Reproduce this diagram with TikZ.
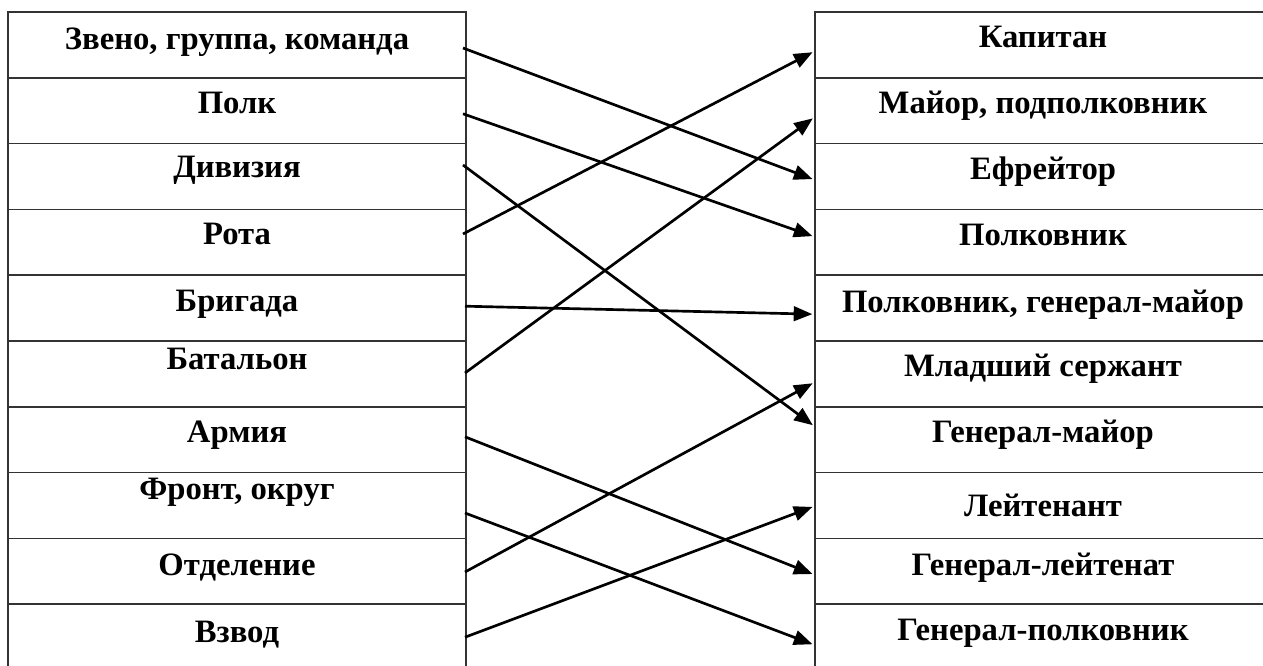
\documentclass[tikz,border=0pt]{standalone}
\usepackage{fontspec}
\setmainfont{Liberation Serif}
\usetikzlibrary{arrows.meta,calc}
\begin{document}
\begin{tikzpicture}[x=0.75pt,y=-0.75pt,
  lcell/.style={draw=black!80,line width=1.1pt,minimum width=343.5pt,minimum height=49.35pt,inner sep=0pt,outer sep=0pt,anchor=north west},
  rcell/.style={lcell,minimum width=342pt},
  lbl/.style={font=\bfseries\fontsize{24.5}{27}\selectfont,anchor=base,inner sep=0pt},
  arr/.style={line width=2pt,-{Triangle[length=14pt,width=11pt]},shorten >=2pt}]
\useasboundingbox (0,0) rectangle (1263,666);
% left column cells
\node[lcell] (L0) at (8,12) {};
\node[lcell] (L1) at (8,77.8) {};
\node[lcell] (L2) at (8,143.6) {};
\node[lcell] (L3) at (8,209.4) {};
\node[lcell] (L4) at (8,275.2) {};
\node[lcell] (L5) at (8,341) {};
\node[lcell] (L6) at (8,406.8) {};
\node[lcell] (L7) at (8,472.6) {};
\node[lcell] (L8) at (8,538.4) {};
\node[lcell] (L9) at (8,604.2) {};
% right column cells
\node[rcell] (R0) at (815,12) {};
\node[rcell] (R1) at (815,77.8) {};
\node[rcell] (R2) at (815,143.6) {};
\node[rcell] (R3) at (815,209.4) {};
\node[rcell] (R4) at (815,275.2) {};
\node[rcell] (R5) at (815,341) {};
\node[rcell] (R6) at (815,406.8) {};
\node[rcell] (R7) at (815,472.6) {};
\node[rcell] (R8) at (815,538.4) {};
\node[rcell] (R9) at (815,604.2) {};
% left labels
\node[lbl] (tL0) at ($(L0.north)+(0,38)$) {Звено, группа, команда};
\node[lbl] (tL1) at ($(L1.north)+(0,36)$) {Полк};
\node[lbl] (tL2) at ($(L2.north)+(0,34)$) {Дивизия};
\node[lbl] (tL3) at ($(L3.north)+(0,35)$) {Рота};
\node[lbl] (tL4) at ($(L4.north)+(0,36)$) {Бригада};
\node[lbl] (tL5) at ($(L5.north)+(0,28)$) {Батальон};
\node[lbl] (tL6) at ($(L6.north)+(0,36)$) {Армия};
\node[lbl] (tL7) at ($(L7.north)+(0,27)$) {Фронт, округ};
\node[lbl] (tL8) at ($(L8.north)+(0,37)$) {Отделение};
\node[lbl] (tL9) at ($(L9.north)+(0,38)$) {Взвод};
% right labels
\node[lbl] (tR0) at ($(R0.north)+(0,36)$) {Капитан};
\node[lbl] (tR1) at ($(R1.north)+(0,36)$) {Майор, подполковник};
\node[lbl] (tR2) at ($(R2.north)+(0,36)$) {Ефрейтор};
\node[lbl] (tR3) at ($(R3.north)+(0,36)$) {Полковник};
\node[lbl] (tR4) at ($(R4.north)+(0,37)$) {Полковник, генерал-майор};
\node[lbl] (tR5) at ($(R5.north)+(0,36)$) {Младший сержант};
\node[lbl] (tR6) at ($(R6.north)+(0,36)$) {Генерал-майор};
\node[lbl] (tR7) at ($(R7.north)+(0,44)$) {Лейтенант};
\node[lbl] (tR8) at ($(R8.north)+(0,37)$) {Генерал-лейтенат};
\node[lbl] (tR9) at ($(R9.north)+(0,36)$) {Генерал-полковник};
% connectors
\draw[arr] ($(L0.north east)+(-3,36)$) -- ($(R2.north west)+(0,36.4)$);
\draw[arr] ($(L1.north east)+(-3,36)$) -- ($(R3.north west)+(0,27.6)$);
\draw[arr] ($(L2.north east)+(-3,21.4)$) -- ($(R6.north west)+(0,20)$);
\draw[arr] ($(L3.north east)+(-3,24.6)$) -- ($(R0.north west)+(0,39)$);
\draw[arr] ($(L4.north east)+(-1,31)$) -- ($(R4.north west)+(0,39)$);
\draw[arr] ($(L5.north east)+(-1,32)$) -- ($(R1.north west)+(0,39)$);
\draw[arr] ($(L6.north east)+(-1,30)$) -- ($(R8.north west)+(0,36.6)$);
\draw[arr] ($(L7.north east)+(-1,40.4)$) -- ($(R9.north west)+(0,41)$);
\draw[arr] ($(L8.north east)+(-1,33.6)$) -- ($(R5.north west)+(0,41)$);
\draw[arr] ($(L9.north east)+(-1,33)$) -- ($(R7.north west)+(0,33.4)$);
\end{tikzpicture}
\end{document}
